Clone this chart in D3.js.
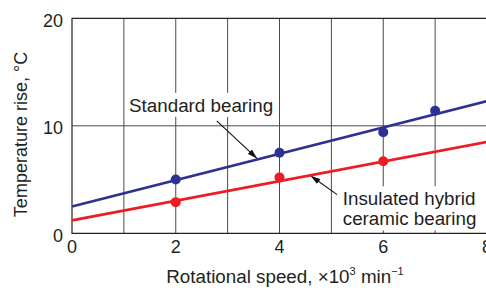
<!DOCTYPE html>
<html lang="en">
<head>
  <meta charset="UTF-8">
  <title>Temperature rise vs rotational speed</title>
  <style>
    body { margin: 0; background: #fff; }
    svg { display: block; font-family: "Liberation Sans", Arial, sans-serif; }
    .grid line { stroke: #4a4a4a; stroke-width: 1; }
    .frame { stroke: #222; stroke-width: 1.2; fill: none; }
    .tick-label, .title, .note { fill: #231f20; font-size: 18px; }
    .note, .xtitle { font-size: 18.8px; }
  </style>
</head>
<body>
  <svg id="chart" width="486" height="288"></svg>
  <script src="https://d3js.org/d3.v7.min.js"></script>
  <script>
    // data
    const xTicks = [0, 2, 4, 6, 8];
    const yTicks = [0, 10, 20];
    const xGrid = [1, 2, 3, 4, 5, 6, 7];
    const yGrid = [10];

    const standardSpeed = [2, 4, 6, 7];
    const standardRise = [5.0, 7.5, 9.4, 11.4];
    const hybridSpeed = [2, 4, 6];
    const hybridRise = [2.9, 5.2, 6.7];

    // fitted lines (end points)
    const standardFit = [[0, 2.5], [8, 12.3]];
    const hybridFit = [[0, 1.2], [8, 8.5]];

    const blue = "#2e3192";
    const red = "#ed1c24";

    const svg = d3.select("#chart");
    const x = d3.scaleLinear().domain([0, 8]).range([72, 487]);
    const y = d3.scaleLinear().domain([0, 20]).range([233.3, 18.3]);

    // grid
    const grid = svg.append("g").attr("class", "grid");
    grid.selectAll(".vx")
      .data(xGrid)
      .join("line")
      .attr("x1", d => x(d)).attr("x2", d => x(d))
      .attr("y1", y(0)).attr("y2", y(20));
    grid.selectAll(".hy")
      .data(yGrid)
      .join("line")
      .attr("x1", x(0)).attr("x2", x(8))
      .attr("y1", d => y(d)).attr("y2", d => y(d));

    // frame: left, bottom, top
    svg.append("path")
      .attr("class", "frame")
      .attr("d", `M${x(8)},${y(20)}H${x(0)}V${y(0)}H${x(8)}`);

    // tick labels
    svg.append("g").selectAll("text")
      .data(yTicks)
      .join("text")
      .attr("class", "tick-label")
      .attr("text-anchor", "end")
      .attr("x", x(0) - 9)
      .attr("y", d => y(d) + 8.4)
      .text(d => d);
    svg.append("g").selectAll("text")
      .data(xTicks)
      .join("text")
      .attr("class", "tick-label")
      .attr("text-anchor", "middle")
      .attr("x", d => x(d))
      .attr("y", y(0) + 19.7)
      .text(d => d);

    // axis titles
    const xt = svg.append("text")
      .attr("class", "title xtitle")
      .attr("text-anchor", "middle")
      .attr("x", 285)
      .attr("y", 282.5);
    xt.append("tspan").text("Rotational speed, \u00d710");
    xt.append("tspan").attr("dy", -8).attr("font-size", 11).text("3");
    xt.append("tspan").attr("dy", 8).text(" min");
    xt.append("tspan").attr("dy", -8).attr("font-size", 11).text("\u22121");

    svg.append("text")
      .attr("class", "title")
      .attr("text-anchor", "middle")
      .attr("transform", "translate(26.5,134.5) rotate(-90)")
      .text("Temperature rise, \u00b0C");

    // annotation labels with white backing boxes
    function note(lines, px, py) {
      const g = svg.append("g");
      const box = g.append("rect").attr("fill", "#fff");
      const t = g.append("text").attr("class", "note");
      lines.forEach((s, i) => {
        t.append("tspan").attr("x", x(px)).attr("y", y(py) + i * 20).text(s);
      });
      const b = t.node().getBBox();
      box.attr("x", b.x - 2).attr("y", b.y - 2)
        .attr("width", b.width + 4).attr("height", b.height + 3);
    }
    note(["Standard bearing"], 1.1, 11.3);
    note(["Insulated hybrid", "ceramic bearing"], 5.22, 2.6);

    // arrows
    svg.append("defs").append("marker")
      .attr("id", "head")
      .attr("viewBox", "0 0 10 6")
      .attr("refX", 10).attr("refY", 3)
      .attr("markerWidth", 10).attr("markerHeight", 6)
      .attr("markerUnits", "userSpaceOnUse")
      .attr("orient", "auto")
      .append("path")
      .attr("d", "M0,0L10,3L0,6Z")
      .attr("fill", "#111");

    const arrows = [
      [[2.79, 10.45], [3.57, 6.95]],
      [[5.11, 3.6], [4.6, 5.35]]
    ];
    svg.append("g").selectAll("line")
      .data(arrows)
      .join("line")
      .attr("x1", d => x(d[0][0])).attr("y1", d => y(d[0][1]))
      .attr("x2", d => x(d[1][0])).attr("y2", d => y(d[1][1]))
      .attr("stroke", "#111")
      .attr("stroke-width", 1.1)
      .attr("marker-end", "url(#head)");

    // fitted lines
    const line = d3.line().x(d => x(d[0])).y(d => y(d[1]));
    svg.append("path").datum(standardFit)
      .attr("d", line).attr("fill", "none")
      .attr("stroke", blue).attr("stroke-width", 2.6);
    svg.append("path").datum(hybridFit)
      .attr("d", line).attr("fill", "none")
      .attr("stroke", red).attr("stroke-width", 2.6);

    // measured points
    svg.append("g").selectAll("circle")
      .data(standardSpeed)
      .join("circle")
      .attr("cx", d => x(d))
      .attr("cy", (d, i) => y(standardRise[i]))
      .attr("r", 5)
      .attr("fill", blue);
    svg.append("g").selectAll("circle")
      .data(hybridSpeed)
      .join("circle")
      .attr("cx", d => x(d))
      .attr("cy", (d, i) => y(hybridRise[i]))
      .attr("r", 5)
      .attr("fill", red);
  </script>
</body>
</html>
